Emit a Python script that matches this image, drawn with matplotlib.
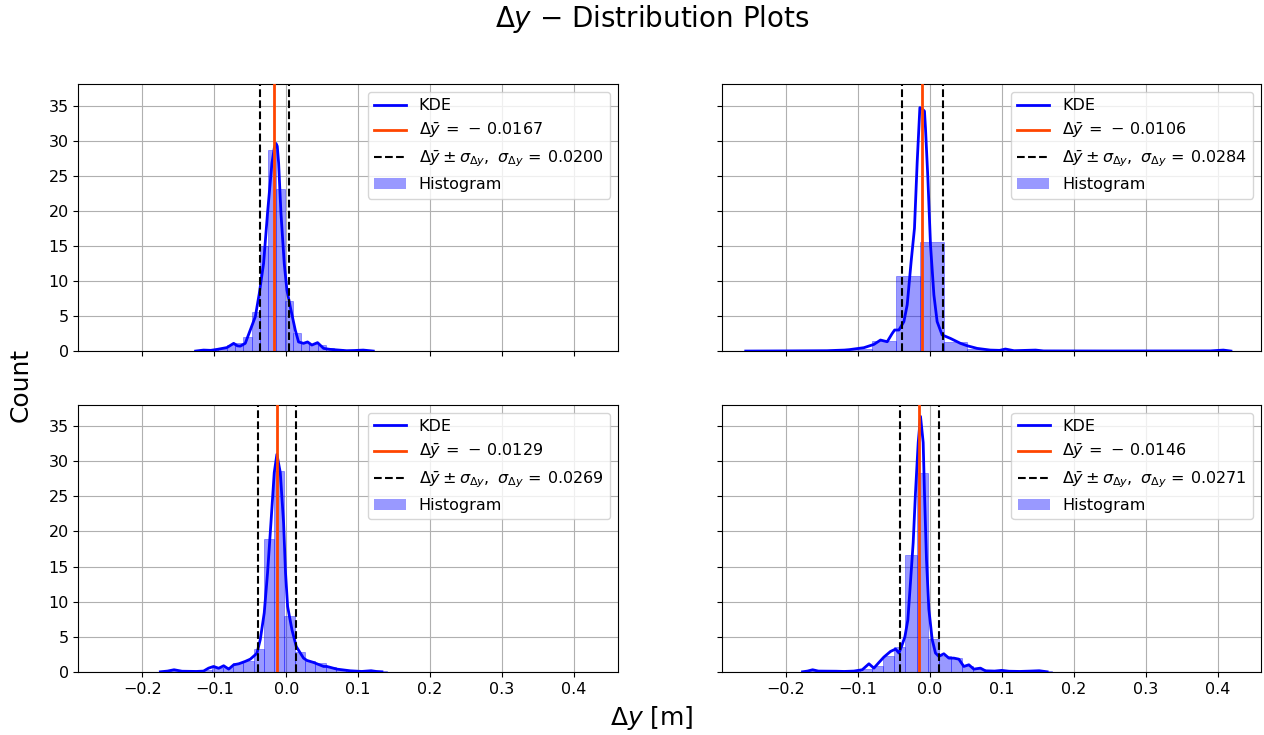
import numpy as np
import matplotlib
matplotlib.use("Agg")
import matplotlib.pyplot as plt
from matplotlib.lines import Line2D
from matplotlib.patches import Patch

# ---------------- data ----------------
means = [-0.0167, -0.0106, -0.0129, -0.0146]
sigmas = [0.0200, 0.0284, 0.0269, 0.0271]

# histogram bin edges and densities
h1_edges = [-0.1288, -0.1173, -0.1058, -0.0943, -0.0828, -0.0713, -0.0598, -0.0483,
            -0.0368, -0.0253, -0.0138, -0.0023, 0.0092, 0.0207, 0.0322, 0.0437,
            0.0552, 0.0667, 0.0782, 0.0897, 0.1012, 0.1127, 0.1242]
h1_vals = [0.05, 0.1, 0.2, 0.35, 0.8, 1.1, 2.0, 5.5, 15.0, 28.6, 23.1, 7.1, 2.6,
           1.3, 1.0, 0.9, 0.45, 0.25, 0.15, 0.1, 0.1, 0.05]

h2_edges = [-0.2449, -0.2120, -0.1790, -0.1460, -0.1131, -0.0801, -0.0468, -0.0135,
            0.0191, 0.0517, 0.0846, 0.1176, 0.1505, 0.1835, 0.2164, 0.2494,
            0.2823, 0.3153, 0.3482, 0.3812, 0.4141, 0.4471]
h2_vals = [0.02, 0.0, 0.02, 0.06, 0.3, 1.4, 10.7, 15.6, 1.35, 0.3, 0.12, 0.05,
           0.02, 0.0, 0.0, 0.0, 0.0, 0.0, 0.0, 0.02, 0.02]

h3_edges = [-0.1741, -0.1598, -0.1455, -0.1312, -0.1169, -0.1026, -0.0883, -0.0740,
            -0.0597, -0.0454, -0.0311, -0.0168, -0.0025, 0.0118, 0.0261, 0.0404,
            0.0547, 0.0690, 0.0833, 0.0976, 0.1119, 0.1262, 0.1405]
h3_vals = [0.1, 0.15, 0.05, 0.08, 0.3, 0.6, 0.7, 1.25, 1.6, 3.3, 18.9, 28.6, 8.0,
           2.76, 1.5, 1.2, 0.75, 0.45, 0.2, 0.1, 0.1, 0.1]

h4_edges = [-0.1752, -0.1595, -0.1438, -0.1281, -0.1124, -0.0967, -0.0810, -0.0653,
            -0.0496, -0.0339, -0.0182, -0.0025, 0.0132, 0.0289, 0.0446, 0.0603,
            0.0760, 0.0917, 0.1074, 0.1231, 0.1388, 0.1545, 0.1702]
h4_vals = [0.15, 0.1, 0.08, 0.08, 0.15, 0.4, 0.76, 2.3, 3.6, 16.6, 28.3, 4.7, 2.3,
           1.95, 0.76, 0.4, 0.2, 0.15, 0.1, 0.06, 0.08, 0.08]

# KDE curves
k1_x = [-0.126, -0.115, -0.105, -0.096, -0.0824, -0.0731, -0.068, -0.064, -0.057,
        -0.05, -0.043, -0.0375, -0.0315, -0.026, -0.0199, -0.0165, -0.0143, -0.0125,
        -0.0106, -0.0074, -0.0028, 0.0009, 0.0056, 0.0125, 0.0171, 0.024, 0.0296,
        0.0356, 0.0435, 0.0519, 0.061, 0.072, 0.084, 0.095, 0.107, 0.121]
k1_y = [0.0, 0.14, 0.1, 0.24, 0.5, 1.1, 0.75, 0.7, 1.1, 3.0, 4.9, 8.2, 12.5, 19.7,
        26.8, 29.0, 29.6, 29.2, 26.8, 19.7, 12.5, 8.7, 6.3, 3.0, 1.3, 1.1, 1.3,
        0.86, 1.2, 0.38, 0.24, 0.15, 0.05, 0.08, 0.14, 0.0]

k2_x = [-0.256, -0.2, -0.143, -0.13, -0.119, -0.112, -0.1056, -0.0917, -0.0778,
        -0.0686, -0.0593, -0.0524, -0.049, -0.043, -0.0361, -0.0315, -0.026, -0.0214,
        -0.0176, -0.0139, -0.0105, -0.0075, -0.0061, -0.0028, 0.0009, 0.0056, 0.0101,
        0.017, 0.0287, 0.0425, 0.0518, 0.0657, 0.084, 0.097, 0.105, 0.117, 0.147,
        0.158, 0.25, 0.39, 0.408, 0.4185]
k2_y = [0.0, 0.02, 0.05, 0.1, 0.14, 0.2, 0.29, 0.48, 0.95, 1.57, 1.33, 2.5, 3.0, 3.0,
        4.2, 6.6, 12.8, 17.5, 27.0, 34.7, 34.5, 34.2, 31.8, 24.7, 15.1, 8.0, 4.2,
        2.3, 1.8, 1.1, 0.76, 0.38, 0.14, 0.1, 0.29, 0.05, 0.14, 0.02, 0.01, 0.02,
        0.14, 0.0]

k3_x = [-0.175, -0.165, -0.156, -0.145, -0.125, -0.115, -0.108, -0.101, -0.094,
        -0.087, -0.080, -0.073, -0.066, -0.057, -0.05, -0.043, -0.0407, -0.0361,
        -0.0306, -0.026, -0.0213, -0.0167, -0.013, -0.0083, -0.0037, -0.001, 0.0019,
        0.0079, 0.0139, 0.024, 0.0287, 0.038, 0.0426, 0.052, 0.0565, 0.0704, 0.089,
        0.105, 0.118, 0.125, 0.133]
k3_y = [0.0, 0.1, 0.29, 0.08, 0.05, 0.1, 0.52, 0.76, 0.5, 0.86, 0.38, 1.0, 1.14,
        1.48, 1.8, 2.43, 2.67, 4.6, 8.4, 14.1, 21.2, 28.4, 31.0, 28.4, 21.2, 14.1,
        9.3, 6.0, 3.6, 1.95, 1.62, 1.33, 1.14, 0.76, 0.76, 0.38, 0.14, 0.05, 0.15,
        0.05, 0.0]

k4_x = [-0.177, -0.17, -0.163, -0.155, -0.13, -0.119, -0.1056, -0.094, -0.0847,
        -0.0778, -0.0708, -0.0639, -0.0547, -0.0477, -0.043, -0.0394, -0.0347,
        -0.0306, -0.027, -0.0232, -0.02, -0.0162, -0.013, -0.0093, -0.0075, -0.0047,
        -0.0014, 0.0032, 0.0078, 0.0125, 0.0194, 0.0264, 0.0333, 0.0403, 0.0472,
        0.0542, 0.0611, 0.0703, 0.0772, 0.09, 0.1, 0.11, 0.125, 0.14, 0.152, 0.163]
k4_y = [0.0, 0.1, 0.29, 0.1, 0.08, 0.05, 0.1, 0.29, 1.14, 0.52, 1.33, 2.1, 2.9,
        3.24, 2.67, 3.6, 5.0, 7.4, 12.7, 18.4, 25.5, 32.7, 36.4, 32.7, 25.5, 16.0,
        8.9, 4.6, 2.67, 2.2, 2.57, 1.95, 1.95, 1.8, 0.76, 1.0, 0.38, 0.52, 0.14,
        0.1, 0.2, 0.08, 0.05, 0.1, 0.15, 0.0]

hist_edges = [h1_edges, h2_edges, h3_edges, h4_edges]
hist_vals = [h1_vals, h2_vals, h3_vals, h4_vals]
kde_x = [k1_x, k2_x, k3_x, k4_x]
kde_y = [k1_y, k2_y, k3_y, k4_y]

x_ticks = [-0.2, -0.1, 0.0, 0.1, 0.2, 0.3, 0.4]
y_ticks = [0, 5, 10, 15, 20, 25, 30, 35]

# ---------------- plot ----------------
plt.rcParams['font.family'] = ['DejaVu Sans']
fig, axes = plt.subplots(2, 2, figsize=(12.64, 7.35), dpi=100, sharex=True, sharey=True)
fig.subplots_adjust(left=0.062, right=0.998, top=0.886, bottom=0.086,
                    wspace=0.193, hspace=0.2)

for i, ax in enumerate(axes.flat):
    e = np.array(hist_edges[i])
    ax.bar(e[:-1], hist_vals[i], width=np.diff(e), align='edge',
           color='blue', alpha=0.4, edgecolor='blue', linewidth=0.6, zorder=2)
    ax.plot(kde_x[i], kde_y[i], color='blue', lw=2, zorder=3)
    m, s = means[i], sigmas[i]
    ax.axvline(m, color='orangered', lw=2, zorder=4)
    ax.axvline(m - s, color='black', ls='--', lw=1.5, zorder=4)
    ax.axvline(m + s, color='black', ls='--', lw=1.5, zorder=4)
    ax.grid(True, zorder=0)
    ax.set_axisbelow(True)
    ax.tick_params(labelsize=11.5)
    handles = [
        Line2D([], [], color='blue', lw=2),
        Line2D([], [], color='orangered', lw=2),
        Line2D([], [], color='black', ls='--', lw=1.5),
        Patch(facecolor='blue', alpha=0.4),
    ]
    sign = '-' if m < 0 else ''
    labels = [
        "KDE",
        r"$\Delta\bar{y}\,=\,%s\,%.4f$" % (sign, abs(m)),
        r"$\Delta\bar{y} \pm \sigma_{\Delta y},\ \sigma_{\Delta y}\,=\,%.4f$" % s,
        "Histogram",
    ]
    ax.legend(handles, labels, loc='upper right', fontsize=11.5)

axes[0, 0].set_xlim(-0.289, 0.461)
axes[0, 0].set_ylim(0, 38.1)
axes[0, 0].set_xticks(x_ticks)
axes[0, 0].set_yticks(y_ticks)

fig.suptitle(r"$\Delta y$ $-$ Distribution Plots", fontsize=20, x=0.516, y=0.996)
fig.supxlabel(r"$\Delta y$ [m]", fontsize=18, x=0.516, y=0.004)
fig.supylabel("Count", fontsize=18, x=0.007, y=0.476)

fig.savefig("out.png", dpi=100)
